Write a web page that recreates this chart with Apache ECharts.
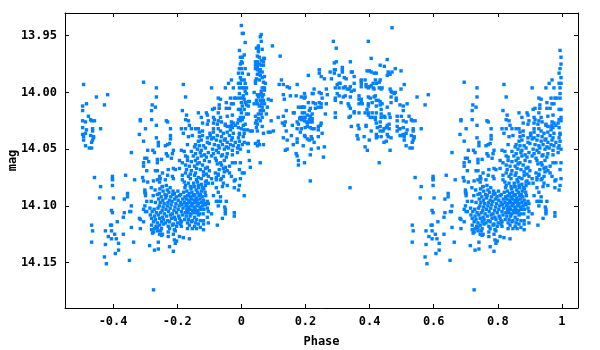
<!doctype html>
<html>
<head>
<meta charset="UTF-8">
<title>Phase plot</title>
<script src="https://cdn.jsdelivr.net/npm/echarts@6/dist/echarts.min.js"></script>
<style>
html,body{margin:0;padding:0;background:#fff}
#main{width:600px;height:350px}
</style>
</head>
<body>
<div id="main"></div>
<script>
// tick labels
const phaseTicks = [-0.4, -0.2, 0, 0.2, 0.4, 0.6, 0.8, 1];
const magTicks = [13.95, 14.00, 14.05, 14.10, 14.15];

// values, [phase, mag]
const farWing = [[-.492,13.993],[-.495,14.012],[-.495,14.016],[-.483,14.010],[-.452,14.004],[-.417,14.002],[-.427,14.011],[-.477,14.021],[-.495,14.025],[-.470,14.024],[-.467,14.025],[-.458,14.025],[-.486,14.026],[-.495,14.031],[-.439,14.032],[-.464,14.032],[-.483,14.033],[-.464,14.034],[-.495,14.037],[-.486,14.036],[-.470,14.038],[-.461,14.039],[-.492,14.039],[-.461,14.040],[-.492,14.042],[-.464,14.042],[-.467,14.044],[-.486,14.047],[-.474,14.049],[-.467,14.049]];

const riseSparse = [[-.305,13.991],[-.265,13.996],[-.265,14.004],[-.278,14.011],[-.268,14.013],[-.280,14.016],[-.315,14.024],[-.315,14.025],[-.280,14.024],[-.265,14.029],[-.299,14.032],[-.318,14.037],[-.305,14.043],[-.265,14.040],[-.259,14.044],[-.292,14.051],[-.276,14.051],[-.271,14.053],[-.343,14.053],[-.234,14.025],[-.230,14.026],[-.221,14.032],[-.221,14.038],[-.221,14.041],[-.224,14.045],[-.230,14.046],[-.237,14.047],[-.259,14.047],[-.181,13.993],[-.174,14.004],[-.184,14.016],[-.171,14.020],[-.174,14.024],[-.165,14.025],[-.162,14.029],[-.187,14.032],[-.174,14.032],[-.156,14.032],[-.181,14.036],[-.165,14.039],[-.153,14.038],[-.168,14.046],[-.301,14.058],[-.295,14.058],[-.305,14.062],[-.289,14.061],[-.305,14.065],[-.295,14.069],[-.268,14.069],[-.262,14.069],[-.262,14.059],[-.262,14.062],[-.249,14.059],[-.234,14.054],[-.230,14.056],[-.215,14.054],[-.212,14.051],[-.218,14.058],[-.228,14.068],[-.212,14.067],[-.246,14.071],[-.206,14.068],[-.193,14.060],[-.187,14.051],[-.184,14.062],[-.193,14.067],[-.178,14.052],[-.174,14.056],
[-.458,14.075],[-.439,14.083],[-.442,14.093],[-.399,14.093],[-.402,14.074],[-.402,14.076],[-.402,14.077],[-.402,14.082],[-.361,14.073],[-.333,14.077],[-.355,14.089],[-.355,14.092],[-.365,14.094],[-.308,14.075],[-.305,14.078],[-.292,14.079],[-.301,14.086],[-.301,14.088],[-.299,14.089],[-.299,14.091],[-.295,14.096],[-.301,14.100],[-.343,14.100],[-.305,14.103],[-.299,14.105],[-.295,14.105],[-.405,14.104],[-.402,14.106],[-.365,14.106],[-.348,14.105],[-.345,14.105],[-.368,14.110],[-.318,14.111],[-.315,14.112],[-.305,14.114],[-.387,14.114],[-.408,14.117],[-.405,14.117],[-.467,14.117],[-.343,14.119],[-.315,14.120],[-.464,14.122],[-.424,14.122],[-.405,14.122],[-.395,14.125],[-.368,14.125],[-.415,14.127],[-.405,14.129],[-.390,14.129],[-.336,14.132],[-.467,14.132],[-.383,14.133],[-.424,14.134],[-.286,14.135],[-.383,14.139],[-.271,14.139],[-.393,14.142],[-.427,14.145],[-.349,14.148],[-.421,14.151],[-.274,14.174],[-.259,14.132],[-.259,14.138],[-.212,14.140],[-.224,14.136],[-.209,14.130],[-.202,14.131],[-.206,14.133],[-.193,14.127],[-.181,14.128],[-.162,14.129],[-.212,14.125],[-.228,14.127],[-.249,14.126],[-.246,14.125],[-.255,14.125],[-.277,14.124],[-.274,14.123],[-.262,14.122],
[.009,14.091],[-.022,14.106],[-.022,14.109],[-.050,14.103],[-.050,14.105],[-.050,14.107],[-.059,14.111],[-.075,14.117],[-.093,14.107],[-.052,14.101],[-.047,14.096],[-.072,14.100],[-.078,14.096],[-.072,14.096],[-.065,14.096],[-.065,14.092],[-.087,14.091],[-.009,14.086],[-.022,14.084],[-.006,14.082],[-.003,14.076],[-.019,14.077],[-.022,14.078],[-.031,14.074],[-.044,14.082],[-.056,14.080],[-.072,14.088],[-.078,14.084],[-.090,14.080],[-.078,14.077],[-.062,14.076],[-.059,14.083],[-.103,14.098],[-.106,14.102],[-.103,14.105],[-.106,14.110],[-.103,14.115],[-.118,14.116],[-.128,14.119],[-.118,14.121],[-.140,14.120],[-.153,14.120],[-.168,14.120],[-.187,14.118],[-.190,14.113]];

const riseDense = [[-.093,13.996],[-.050,13.996],[-.040,13.992],[-.031,13.989],[-.025,13.996],[-.072,14.005],[-.065,14.006],[-.069,14.011],[-.047,14.009],[-.037,14.014],[-.025,14.010],[-.034,14.005],[-.022,14.005],[-.134,14.018],[-.109,14.018],[-.090,14.015],[-.084,14.014],[-.069,14.014],[-.072,14.018],[-.047,14.014],[-.031,14.010],[-.125,14.022],[-.106,14.020],[-.087,14.022],[-.103,14.025],[-.084,14.024],[-.065,14.022],[-.044,14.021],[-.028,14.020],[-.121,14.027],[-.106,14.028],[-.087,14.027],[-.075,14.028],[-.072,14.025],
[-.143,14.032],[-.134,14.032],[-.087,14.032],[-.072,14.032],[-.050,14.029],[-.044,14.030],[-.031,14.029],
[-.131,14.035],[-.121,14.034],[-.098,14.036],[-.087,14.035],[-.065,14.034],[-.056,14.036],[-.044,14.035],[-.034,14.033],[-.025,14.036],[-.006,14.037],[.009,14.036],
[-.131,14.039],[-.121,14.038],[-.106,14.040],[-.097,14.038],[-.087,14.040],[-.075,14.038],[-.062,14.039],[-.050,14.041],[-.037,14.038],[-.028,14.040],[-.009,14.040],[.006,14.039],
[-.134,14.043],[-.125,14.042],[-.106,14.044],[-.093,14.041],[-.078,14.042],[-.065,14.043],[-.053,14.042],[-.044,14.044],[-.031,14.042],[-.019,14.044],[-.006,14.043],[.009,14.044],[.019,14.045],
[-.143,14.046],[-.131,14.047],[-.118,14.047],[-.100,14.045],[-.084,14.046],[-.072,14.047],[-.059,14.046],[-.047,14.048],[-.034,14.046],[-.025,14.047],[-.009,14.047],[.003,14.046],
[-.146,14.048],[-.137,14.050],[-.125,14.051],[-.112,14.049],[-.090,14.050],[-.078,14.051],[-.069,14.049],[-.053,14.050],[-.040,14.049],[-.028,14.051],[-.012,14.049],[-.003,14.050],
[-.156,14.052],[-.143,14.054],[-.128,14.053],[-.115,14.055],[-.103,14.053],[-.087,14.054],[-.072,14.053],[-.059,14.055],[-.044,14.054],[-.012,14.053],[.022,14.052],
[-.168,14.057],[-.150,14.056],[-.137,14.058],[-.125,14.056],[-.109,14.057],[-.093,14.056],[-.081,14.058],[-.062,14.056],[-.047,14.057],[-.028,14.055],
[-.168,14.060],[-.156,14.061],[-.143,14.060],[-.131,14.062],[-.115,14.060],[-.100,14.061],[-.078,14.060],[-.065,14.062],[-.053,14.060],[-.028,14.062],[-.019,14.062],[-.003,14.062],[.025,14.060],[.059,14.062],
[-.174,14.064],[-.162,14.065],[-.146,14.065],[-.137,14.063],[-.121,14.064],[-.106,14.066],[-.075,14.063],[-.062,14.064],[-.050,14.066],[-.037,14.065],
[-.171,14.068],[-.156,14.069],[-.140,14.067],[-.128,14.068],[-.112,14.067],[-.100,14.069],[-.069,14.068],[-.056,14.067],[-.044,14.069],[-.006,14.068],[.028,14.066],
[-.174,14.071],[-.159,14.072],[-.143,14.071],[-.118,14.070],[-.109,14.072],[-.081,14.071],[-.072,14.072],[-.053,14.070],[-.037,14.071],[.003,14.071],[.009,14.071],
[-.255,14.074],[-.230,14.073],[-.215,14.074],[-.184,14.073],[-.165,14.074],[-.146,14.073],[-.134,14.075],[-.118,14.073],[-.103,14.074],[-.072,14.073],[-.056,14.074],
[-.253,14.076],[-.237,14.077],[-.212,14.076],[-.184,14.077],[-.159,14.076],[-.140,14.077],[-.125,14.076],[-.109,14.078],[-.093,14.076],[-.078,14.075],[-.065,14.077],
[-.274,14.078],[-.262,14.077],[-.255,14.079],[-.178,14.079],[-.165,14.080],[-.149,14.080],[-.137,14.079],[-.125,14.081],[-.112,14.079],[-.103,14.080],
[-.246,14.083],[-.234,14.082],[-.174,14.082],[-.159,14.083],[-.146,14.083],[-.134,14.082],[-.121,14.084],[-.112,14.082]];

const troughCore = [[-.281,14.084],[-.269,14.086],[-.254,14.085],[-.247,14.083],[-.231,14.086],[-.222,14.084],[-.213,14.087],[-.176,14.084],[-.170,14.087],[-.157,14.085],[-.148,14.083],[-.141,14.086],[-.133,14.084],[-.124,14.087],[-.117,14.085],
[-.256,14.089],[-.244,14.087],[-.238,14.090],[-.226,14.088],[-.209,14.089],[-.198,14.087],[-.189,14.090],[-.180,14.088],[-.163,14.089],[-.154,14.088],[-.145,14.090],[-.136,14.088],[-.127,14.090],[-.113,14.088],
[-.275,14.091],[-.262,14.090],[-.250,14.092],[-.233,14.091],[-.220,14.092],[-.214,14.090],[-.203,14.092],[-.193,14.091],[-.176,14.092],[-.168,14.091],[-.159,14.092],[-.150,14.091],[-.141,14.093],[-.132,14.091],[-.122,14.092],[-.111,14.091],
[-.258,14.094],[-.245,14.095],[-.236,14.093],[-.224,14.095],[-.208,14.094],[-.197,14.095],[-.183,14.094],[-.172,14.094],[-.164,14.095],[-.155,14.094],[-.147,14.095],[-.138,14.095],[-.129,14.094],[-.118,14.095],
[-.281,14.096],[-.268,14.097],[-.253,14.097],[-.241,14.098],[-.229,14.097],[-.216,14.096],[-.204,14.098],[-.190,14.097],[-.178,14.097],[-.169,14.098],[-.160,14.097],[-.152,14.098],[-.143,14.097],[-.134,14.098],[-.125,14.097],[-.114,14.098],[-.106,14.096],
[-.256,14.100],[-.244,14.101],[-.231,14.100],[-.219,14.099],[-.207,14.101],[-.194,14.100],[-.185,14.099],[-.173,14.100],[-.165,14.101],[-.156,14.100],[-.147,14.101],[-.138,14.100],[-.129,14.101],[-.121,14.100],[-.112,14.099],
[-.285,14.102],[-.272,14.103],[-.260,14.102],[-.247,14.104],[-.235,14.103],[-.222,14.102],[-.210,14.104],[-.197,14.103],[-.182,14.102],[-.170,14.103],[-.161,14.103],[-.152,14.104],[-.144,14.103],[-.135,14.104],[-.126,14.103],[-.117,14.103],
[-.278,14.105],[-.265,14.106],[-.252,14.106],[-.240,14.107],[-.227,14.105],[-.215,14.107],[-.202,14.106],[-.187,14.105],[-.175,14.106],[-.166,14.106],[-.157,14.107],[-.148,14.106],[-.139,14.106],[-.130,14.107],
[-.284,14.108],[-.271,14.109],[-.259,14.108],[-.246,14.110],[-.233,14.109],[-.221,14.108],[-.209,14.110],[-.196,14.109],[-.184,14.108],[-.172,14.109],[-.160,14.109],[-.146,14.110],[-.134,14.108],[-.119,14.107],
[-.280,14.111],[-.268,14.112],[-.255,14.111],[-.243,14.112],[-.230,14.113],[-.218,14.111],[-.206,14.112],[-.193,14.111],[-.177,14.112],[-.165,14.112],[-.153,14.113],[-.140,14.112],[-.128,14.113],
[-.274,14.114],[-.262,14.115],[-.249,14.114],[-.237,14.115],[-.224,14.114],[-.212,14.116],[-.199,14.115],[-.187,14.114],[-.168,14.115],[-.156,14.114],[-.143,14.115],
[-.280,14.117],[-.266,14.118],[-.255,14.117],[-.243,14.116],[-.228,14.118],[-.215,14.117],[-.202,14.118],[-.190,14.116],[-.162,14.117],[-.146,14.118],[-.134,14.116],[-.118,14.113],
[-.271,14.120],[-.262,14.119],[-.249,14.120],[-.224,14.120],[-.209,14.121],[-.280,14.121],[-.252,14.122],[-.228,14.123],[-.206,14.122]];

const peakNearZero = [[0,13.941],[.003,13.948],[.006,13.948],[.012,13.956],[-.006,13.963],[.009,13.967],[-.003,13.969],[.003,13.969],[0,13.973],[.003,13.974],[-.003,13.975],[-.006,13.979],[0,13.979],[.012,13.979],[-.009,13.983],[.003,13.983],[.022,13.984],[-.003,13.987],[.009,13.989],[0,13.989],[-.009,13.992],[-.003,13.992],[.012,13.992],[.009,13.996],[-.006,13.996],[.003,13.996],[.016,13.996],[-.006,14.001],[.012,13.999],[.016,14.001],[.006,14.003],[-.016,14.005],[-.006,14.005],[.003,14.005],[.009,14.006],[.022,14.008],[.025,14.008],[0,14.009],[.012,14.009],[.016,14.011],[.003,14.012],[.022,14.012],[-.009,14.015],[-.003,14.015],[0,14.018],[.009,14.015],[.006,14.022],[-.003,14.022],[-.009,14.024],[.003,14.024],[-.003,14.025],[-.012,14.027],[-.025,14.027],[-.031,14.026],[-.034,14.030],[-.050,14.028],[-.062,14.026],[-.028,14.031],[-.019,14.029],[-.009,14.031],[0,14.032],[.009,14.033],[.019,14.033],[.028,14.034],[.034,14.034],[.016,14.019],[.022,14.019],[.006,14.029],[.012,14.028],[-.006,14.036],[.022,14.045]];

const peakAfterZero = [[.062,13.949],[.059,13.951],[.062,13.955],[.097,13.959],[.053,13.959],[.047,13.961],[.053,13.961],[.065,13.962],[.053,13.964],[.050,13.968],[.056,13.969],[.069,13.970],[.072,13.970],[.044,13.973],[.050,13.973],[.062,13.972],[.047,13.975],[.056,13.975],[.069,13.973],[.044,13.976],[.050,13.977],[.062,13.976],[.069,13.976],[.050,13.980],[.059,13.980],[.044,13.979],[.056,13.982],[.065,13.982],[.050,13.984],[.059,13.985],[.047,13.988],[.065,13.987],[.072,13.986],[.044,13.990],[.056,13.989],[.069,13.991],[.075,13.992],[.044,13.992],[.065,13.996],[.072,13.996],[.040,14.000],[.050,14.002],[.062,13.999],[.072,13.998],[.059,14.002],[.069,14.002],[.065,14.004],[.053,14.004],[.047,14.007],[.059,14.007],[.069,14.007],[.040,14.010],[.050,14.010],[.062,14.010],[.072,14.010],[.056,14.012],[.065,14.013],[.081,14.013],[.059,14.016],[.069,14.016],[.053,14.019],[.062,14.019],[.044,14.021],[.053,14.023],[.065,14.022],[.047,14.025],[.059,14.025],[.078,14.019],[.084,14.006],[.093,14.007],[.044,14.027],[.050,14.028],[.093,14.025],[.115,14.022],[.137,14.026],[.047,14.031],[.050,14.034],[.065,14.030],[.069,14.036],[.090,14.035],[.100,14.034],[.084,14.035],[.044,14.045],[.053,14.043],[.056,14.046],[.069,14.046],[.050,14.047],
[.121,13.968],[.118,13.993],[.125,13.989],[.131,13.993],[.143,13.995],[.150,13.996],[.131,14.002],[.134,14.006],[.153,14.003],[.174,13.993],[.171,14.003],[.178,14.013],[.165,14.018],[.162,14.018],[.140,14.016],[.131,14.021],[.128,14.027],[.134,14.029],[.159,14.029],[.174,14.026],[.182,14.023],[.174,14.032],[.178,14.028],[.140,14.034],[.156,14.038],[.131,14.040],[.143,14.042],[.137,14.051],[.143,14.050],[.162,14.046],[.174,14.044],[.174,14.041],[.171,14.054],[.174,14.056],[.178,14.064],[.178,14.060]];

const crest = [[.470,13.943],[.287,13.955],[.396,13.955],[.296,13.961],[.405,13.970],[.455,13.971],[.290,13.974],[.296,13.973],[.340,13.973],[.433,13.976],[.446,13.977],[.480,13.979],[.498,13.981],[.243,13.980],[.290,13.980],[.293,13.980],[.315,13.978],[.315,13.980],[.315,13.982],[.277,13.982],[.243,13.983],[.290,13.983],[.346,13.982],[.343,13.982],[.392,13.981],[.399,13.981],[.405,13.982],[.414,13.983],[.421,13.983],[.458,13.982],[.461,13.984],[.455,13.985],[.464,13.984],[.470,13.982],[.209,13.985],[.249,13.986],[.259,13.988],[.281,13.988],[.305,13.985],[.321,13.987],[.327,13.988],[.352,13.986],[.374,13.989],[.374,13.990],[.374,13.992],[.386,13.989],[.418,13.989],[.433,13.989],[.430,13.991],[.421,13.992],[.411,13.992],[.299,13.993],[.305,13.992],[.308,13.992],[.352,13.992],[.389,13.993],[.389,13.995],[.399,13.995],[.405,13.994],[.411,13.996],[.414,13.997],[.430,13.996],[.439,13.996],[.436,13.997],[.498,13.997],
[.293,13.996],[.305,13.996],[.318,13.996],[.324,13.995],[.340,13.995],[.330,13.997],[.336,13.997],[.343,13.999],[.352,13.998],[.374,13.995],[.396,13.996],[.227,13.997],[.243,14.000],[.249,14.001],[.265,13.997],[.221,14.001],[.224,14.001],[.197,14.001],[.268,14.002],[.299,14.001],[.305,14.003],[.318,14.004],[.324,14.003],[.340,14.004],[.367,14.003],[.374,14.006],[.464,13.997],[.467,13.999],[.470,14.000],[.480,14.000],[.477,14.001],[.467,14.004],[.483,14.005],[.483,14.007],
[.199,14.004],[.187,14.004],[.196,14.005],[.209,14.009],[.224,14.009],[.231,14.010],[.243,14.009],[.252,14.005],[.249,14.010],[.265,14.010],[.190,14.013],[.197,14.013],[.215,14.014],[.231,14.014],[.240,14.013],[.249,14.013],[.212,14.016],[.293,14.005],[.293,14.007],[.311,14.009],[.333,14.010],[.336,14.012],[.340,14.014],[.352,14.017],[.352,14.018],[.367,14.006],[.367,14.010],[.374,14.009],[.377,14.010],[.396,14.004],[.396,14.010],[.402,14.005],[.414,14.004],[.418,14.003],[.421,14.007],[.427,14.007],[.433,14.008],[.439,14.010],[.408,14.009],[.396,14.012],[.421,14.012],[.392,14.015],[.396,14.018],[.396,14.020],[.421,14.018],[.408,14.018],[.386,14.018],[.367,14.018],[.433,14.011],[.436,14.015],[.455,14.013],[.467,14.009],[.495,14.011],
[.293,14.018],[.293,14.022],[.340,14.021],[.336,14.022],[.402,14.022],[.408,14.022],[.418,14.022],[.436,14.019],[.436,14.022],[.445,14.021],[.448,14.022],[.461,14.019],[.464,14.022],[.486,14.021],[.486,14.025],[.499,14.021],[.418,14.024],[.433,14.026],[.421,14.027],[.433,14.030],[.424,14.031],[.455,14.029],[.461,14.028],[.461,14.032],[.452,14.031],[.445,14.032],[.389,14.029],[.389,14.030],[.364,14.029],[.367,14.032],[.343,14.030],[.486,14.030],[.495,14.032],[.492,14.032],[.486,14.034],
[.405,14.034],[.421,14.037],[.433,14.034],[.442,14.034],[.424,14.039],[.436,14.039],[.421,14.040],[.455,14.037],[.458,14.039],[.467,14.040],[.452,14.043],[.445,14.044],[.361,14.038],[.364,14.041],[.383,14.039],[.399,14.042],[.386,14.048],[.393,14.051],[.464,14.051],[.430,14.062],[.495,14.038],[.498,14.038],
[.187,14.013],[.193,14.013],[.190,14.018],[.197,14.018],[.184,14.022],[.193,14.022],[.199,14.022],[.206,14.020],[.215,14.021],[.221,14.019],[.221,14.023],[.212,14.024],[.218,14.025],[.187,14.024],[.197,14.025],[.203,14.026],[.206,14.027],[.215,14.026],[.221,14.026],[.249,14.027],[.247,14.029],[.240,14.030],[.187,14.032],[.199,14.031],[.206,14.030],[.215,14.031],[.221,14.032],[.227,14.032],[.240,14.033],[.184,14.035],[.252,14.036],[.197,14.038],[.199,14.039],[.206,14.041],[.212,14.042],[.218,14.039],[.221,14.041],[.227,14.044],[.240,14.039],[.193,14.047],[.218,14.050],[.240,14.049],[.259,14.048],[.215,14.055],[.256,14.057],[.197,14.062],[.262,14.019],[.215,14.078],[.339,14.084]];

const allPoints = [].concat(farWing, riseSparse, riseDense, troughCore, peakNearZero, peakAfterZero, crest);
// the light curve is folded: everything before phase 0 shows up again one cycle later
const repeated = allPoints.filter(function (p) { return p[0] < 0; }).map(function (p) { return [p[0] + 1, p[1]]; });

const textStyle = { fontFamily: 'DejaVu Sans Mono', fontWeight: 'bold', fontSize: 12, color: '#000' };

let myChart = echarts.init(document.getElementById('main'), null, { renderer: 'canvas' });
myChart.setOption({
    animation: false,
    backgroundColor: '#fff',
    grid: { left: 65, right: 22, top: 13, height: 295, outerBoundsMode: 'none' },
    xAxis: [{
        type: 'value', position: 'bottom', min: -0.55, max: 1.05,
        name: 'Phase', nameLocation: 'middle', nameGap: 28, nameMoveOverlap: false, nameTextStyle: textStyle,
        splitLine: { show: false },
        axisLine: { onZero: false, lineStyle: { color: '#000', width: 1 } },
        axisTick: { inside: true, length: 4, customValues: phaseTicks, lineStyle: { color: '#000' } },
        axisLabel: Object.assign({ customValues: phaseTicks, margin: 8, hideOverlap: false }, textStyle)
    }, {
        type: 'value', position: 'top', min: -0.55, max: 1.05,
        splitLine: { show: false },
        axisLine: { onZero: false, lineStyle: { color: '#000', width: 1 } },
        axisTick: { inside: true, length: 4, customValues: phaseTicks, lineStyle: { color: '#000' } },
        axisLabel: { show: false }
    }],
    yAxis: [{
        type: 'value', position: 'left', inverse: true, min: 13.93, max: 14.19,
        name: 'mag', nameLocation: 'middle', nameGap: 46, nameMoveOverlap: false, nameTextStyle: textStyle,
        splitLine: { show: false },
        axisLine: { onZero: false, lineStyle: { color: '#000', width: 1 } },
        axisTick: { inside: true, length: 4, customValues: magTicks, lineStyle: { color: '#000' } },
        axisLabel: Object.assign({ customValues: magTicks, margin: 8, padding: [4, 0, 0, 0], formatter: function (v) { return v.toFixed(2); } }, textStyle)
    }, {
        type: 'value', position: 'right', inverse: true, min: 13.93, max: 14.19,
        splitLine: { show: false },
        axisLine: { onZero: false, lineStyle: { color: '#000', width: 1 } },
        axisTick: { inside: true, length: 4, customValues: magTicks, lineStyle: { color: '#000' } },
        axisLabel: { show: false }
    }],
    series: [{
        type: 'scatter',
        symbol: 'rect',
        symbolSize: 3.4,
        itemStyle: { color: '#0080ff', opacity: 1 },
        silent: true,
        data: allPoints.concat(repeated)
    }]
});
</script>
</body>
</html>
